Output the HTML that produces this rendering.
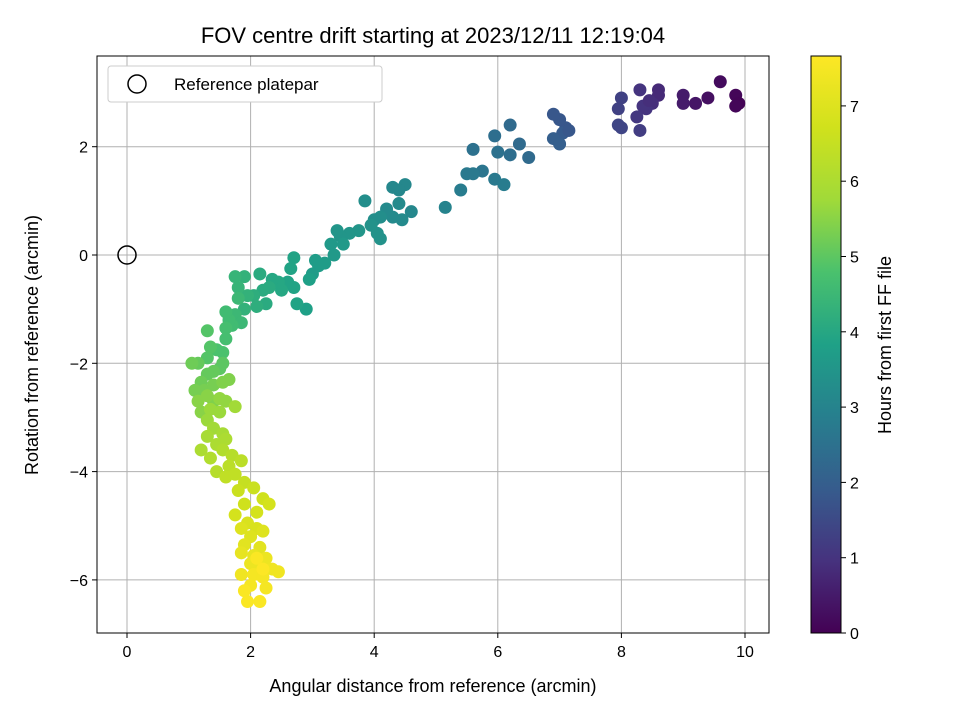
<!DOCTYPE html>
<html><head><meta charset="utf-8"><style>
body{margin:0;background:#fff;font-family:"Liberation Sans","DejaVu Sans",sans-serif;overflow:hidden}
svg text{font-family:"Liberation Sans","DejaVu Sans",sans-serif;fill:#000}
</style></head><body>
<svg id="chart" width="960" height="720" xmlns="http://www.w3.org/2000/svg">
<defs><linearGradient id="vir" x1="0" y1="1" x2="0" y2="0">
<stop offset="0" stop-color="#440154"/><stop offset="0.125" stop-color="#46327e"/><stop offset="0.25" stop-color="#365c8d"/><stop offset="0.375" stop-color="#277f8e"/><stop offset="0.5" stop-color="#1fa187"/><stop offset="0.625" stop-color="#4ac16d"/><stop offset="0.75" stop-color="#a0da39"/><stop offset="0.875" stop-color="#d0e11c"/><stop offset="1" stop-color="#fde725"/></linearGradient>
<clipPath id="clip"><rect x="97" y="56" width="672" height="577"/></clipPath></defs>
<text x="433" y="43" font-size="22" text-anchor="middle">FOV centre drift starting at 2023/12/11 12:19:04</text>
<g id="grid"></g>
<g id="pts" clip-path="url(#clip)"></g>
<rect x="97" y="56" width="672" height="577" fill="none" stroke="#000" stroke-width="1"/>
<g id="ticks"></g>
<text x="433" y="692" font-size="18" text-anchor="middle">Angular distance from reference (arcmin)</text>
<text transform="translate(38,345) rotate(-90)" font-size="18" text-anchor="middle">Rotation from reference (arcmin)</text>
<g>
<rect x="108" y="66" width="274" height="36" rx="3" fill="#fff" stroke="#ccc"/>
<circle cx="137" cy="84" r="9" fill="none" stroke="#000" stroke-width="1.5"/>
<text x="174" y="90" font-size="17">Reference platepar</text>
</g>
<rect x="811" y="56" width="30" height="577" fill="url(#vir)" stroke="#000" stroke-width="1"/>
<g id="cbticks"></g>
<text transform="translate(891,345) rotate(-90)" font-size="18" text-anchor="middle">Hours from first FF file</text>
</svg>
<script>
const xTicks=[0,2,4,6,8,10];
const yTicks=[2,0,-2,-4,-6];
const cTicks=[0,1,2,3,4,5,6,7];
const refPoint=[0,0];
const xs=[9.6,9.85,9.9,9.85,9.4,9.2,9.0,9.0,8.6,8.6,8.5,8.4,8.3,8.35,8.25,8.3,8.0,7.95,7.95,8.0,8.45,
7.1,7.0,6.9,7.05,6.9,7.0,7.15,6.5,6.35,6.2,6.2,5.95,6.0,5.75,5.6,5.6,5.5,5.4,5.95,6.1,5.15,
4.6,4.5,4.4,4.3,4.45,4.3,4.4,4.2,4.1,4.0,3.95,4.05,3.85,4.1,3.75,3.6,3.45,3.4,3.5,3.3,3.35,3.2,3.1,3.0,3.05,2.95,2.9,2.75,2.7,2.7,2.65,2.6,2.5,2.45,2.35,2.3,2.25,2.2,2.15,2.05,2.1,1.95,1.9,1.9,1.75,1.8,
1.8,1.75,1.85,1.7,1.65,1.6,1.6,1.6,1.55,1.45,1.35,1.3,1.3,1.55,1.5,1.4,1.3,1.15,1.05,1.2,1.1,1.25,1.4,1.55,1.65,1.4,1.15,1.3,1.2,
1.5,1.6,1.35,1.3,1.5,1.75,1.4,1.3,1.55,1.45,1.6,1.2,1.35,1.55,1.7,1.45,1.65,1.85,1.6,1.75,
1.9,1.8,2.05,2.2,1.9,2.1,2.3,1.75,1.95,2.1,1.85,2.2,2.0,1.9,2.15,
1.85,2.05,2.25,2.0,2.15,2.35,2.45,1.85,2.05,2.2,2.0,2.25,1.9,2.15,1.95,2.1,2.2];
const ys=[3.2,2.95,2.8,2.75,2.9,2.8,2.95,2.8,3.05,2.95,2.8,2.7,3.05,2.75,2.55,2.3,2.9,2.7,2.4,2.35,2.85,
2.35,2.5,2.6,2.25,2.15,2.05,2.3,1.8,2.05,2.4,1.85,2.2,1.9,1.55,1.95,1.5,1.5,1.2,1.4,1.3,0.88,
0.8,1.3,1.2,1.25,0.65,0.7,0.95,0.85,0.7,0.65,0.55,0.4,1.0,0.3,0.45,0.4,0.35,0.45,0.2,0.2,0.0,-0.15,-0.2,-0.35,-0.1,-0.45,-1.0,-0.9,-0.6,-0.05,-0.25,-0.5,-0.65,-0.5,-0.45,-0.6,-0.9,-0.65,-0.35,-0.75,-0.95,-0.75,-1.0,-0.4,-0.4,-0.6,
-0.8,-1.1,-1.25,-1.3,-1.2,-1.05,-1.35,-1.55,-1.8,-1.75,-1.7,-1.4,-1.9,-2.0,-2.1,-2.15,-2.2,-2.0,-2.0,-2.35,-2.5,-2.5,-2.4,-2.35,-2.3,-2.7,-2.7,-2.6,-2.9,
-2.65,-2.7,-2.85,-3.05,-2.9,-2.8,-3.2,-3.35,-3.3,-3.5,-3.4,-3.6,-3.75,-3.6,-3.7,-4.0,-3.9,-3.8,-4.1,-4.05,
-4.2,-4.35,-4.3,-4.5,-4.6,-4.75,-4.6,-4.8,-4.95,-5.05,-5.05,-5.1,-5.2,-5.35,-5.4,
-5.5,-5.55,-5.6,-5.7,-5.75,-5.8,-5.85,-5.9,-5.9,-5.95,-6.1,-6.15,-6.2,-6.4,-6.4,-5.6,-5.8];
const hours=[0.2,0.1,0.05,0.1,0.3,0.4,0.5,0.5,0.8,0.8,0.9,1.0,1.0,1.0,1.1,1.2,1.3,1.3,1.4,1.4,0.9,
1.8,1.8,1.8,1.9,2.0,2.0,1.8,2.3,2.3,2.3,2.4,2.4,2.5,2.6,2.5,2.7,2.7,2.8,2.7,2.8,3.0,
3.1,3.1,3.1,3.1,3.2,3.2,3.2,3.2,3.3,3.3,3.4,3.4,3.3,3.4,3.5,3.5,3.5,3.5,3.6,3.6,3.6,3.7,3.7,3.7,3.7,3.8,3.8,3.9,3.9,3.9,3.9,3.9,4.0,4.0,4.0,4.1,4.1,4.1,4.1,4.2,4.2,4.3,4.3,4.3,4.4,4.4,
4.5,4.5,4.5,4.6,4.6,4.6,4.7,4.7,4.8,4.8,4.9,4.9,4.9,5.0,5.0,5.1,5.1,5.1,5.2,5.2,5.3,5.3,5.3,5.4,5.4,5.4,5.5,5.5,5.5,
5.6,5.6,5.7,5.7,5.7,5.8,5.8,5.9,5.9,6.0,6.0,6.0,6.1,6.1,6.2,6.2,6.3,6.3,6.4,6.4,
6.5,6.6,6.6,6.7,6.7,6.8,6.8,6.8,6.9,6.9,7.0,7.0,7.0,7.1,7.1,
7.2,7.2,7.3,7.3,7.3,7.4,7.4,7.4,7.5,7.5,7.5,7.5,7.6,7.6,7.6,7.6,7.65];
const NS='http://www.w3.org/2000/svg';
const X=v=>127+v*61.8, Y=v=>255-v*54.15, C=v=>633-v*75.3, HMAX=7.67;
const vir=[[68,1,84],[70,50,126],[54,92,141],[39,127,142],[31,161,135],[74,193,109],[160,218,57],[208,225,28],[253,231,37]];
function col(h){let t=Math.max(0,Math.min(1,h/HMAX))*8,i=Math.min(7,Math.floor(t)),f=t-i;
const a=vir[i],b=vir[i+1];return 'rgb('+a.map((v,k)=>Math.round(v+(b[k]-v)*f)).join(',')+')';}
function mk(tag,attrs,p){const e=document.createElementNS(NS,tag);for(const k in attrs)e.setAttribute(k,attrs[k]);p.appendChild(e);return e;}
const grid=document.getElementById('grid'),ticks=document.getElementById('ticks'),pts=document.getElementById('pts'),cb=document.getElementById('cbticks');
xTicks.forEach(v=>{const x=X(v);
const g=mk('line',{x1:x,x2:x,y1:56,y2:633,stroke:'#b0b0b0','stroke-width':1},grid);


mk('line',{x1:x,x2:x,y1:633,y2:638,stroke:'#000'},ticks);
const t=mk('text',{x:x,y:657,'font-size':16,'text-anchor':'middle'},ticks);t.textContent=String(v).replace('-','\u2212');

});
yTicks.forEach(v=>{const y=Y(v);
const g=mk('line',{x1:97,x2:769,y1:y,y2:y,stroke:'#b0b0b0','stroke-width':1},grid);


mk('line',{x1:92,x2:97,y1:y,y2:y,stroke:'#000'},ticks);
const t=mk('text',{x:88,y:y+6,'font-size':16,'text-anchor':'end'},ticks);t.textContent=String(v).replace('-','\u2212');

});
xs.forEach((x,i)=>{const c=mk('circle',{cx:X(x),cy:Y(ys[i]),r:6.5,fill:col(hours[i])},pts);

});
const ref=mk('circle',{cx:X(refPoint[0]),cy:Y(refPoint[1]),r:9,fill:'none',stroke:'#000','stroke-width':1.5},pts);


cTicks.forEach(v=>{const y=C(v);
mk('line',{x1:841,x2:846,y1:y,y2:y,stroke:'#000'},cb);
const t=mk('text',{x:850,y:y+6,'font-size':16},cb);t.textContent=v;

});
</script>
</body></html>
